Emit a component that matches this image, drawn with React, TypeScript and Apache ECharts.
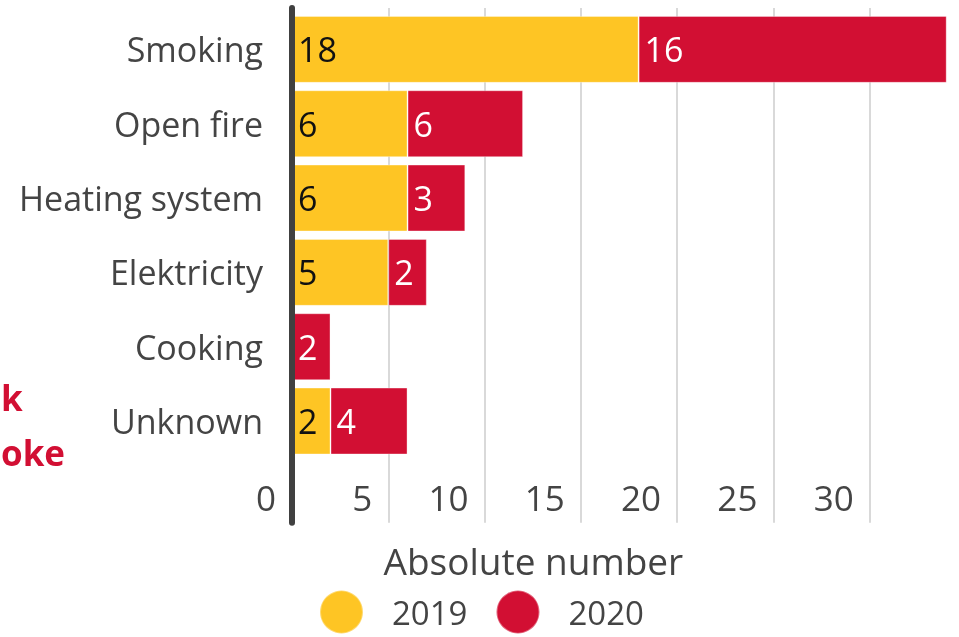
import React, { useEffect, useRef } from "react";
import * as echarts from "echarts";

const categories = ["Smoking", "Open fire", "Heating system", "Elektricity", "Cooking", "Unknown"];
const values2019: (number | string)[] = [18, 6, 6, 5, "-", 2];
const values2020: (number | string)[] = [16, 6, 3, 2, 2, 4];
const seriesNames = ["2019", "2020"];
const axisTitle = "Absolute number";
const titleLines = ["k", "oke"];

const YELLOW = "#fec524";
const RED = "#d20f33";
const TEXT = "#444444";
const FONT = "'Open Sans', 'Noto Sans', sans-serif";

export default function App() {
  const ref = useRef<HTMLDivElement>(null);
  useEffect(() => {
    if (!ref.current) return;
    const chart = echarts.init(ref.current, undefined, { renderer: "svg" });
    const left = 292;
    const right = 12.3;
    const option: any = {
      animation: false,
      textStyle: { fontFamily: FONT },
      grid: [
        { left, right, top: 12.2, height: 446, containLabel: false },
        { left, right, top: 8, height: 514.7, containLabel: false },
      ],
      xAxis: [
        {
          type: "value",
          gridIndex: 0,
          min: 0,
          max: 34,
          interval: 5,
          axisLine: { show: false },
          axisTick: { show: false },
          splitLine: { show: false },
          axisLabel: {
            show: true,
            align: "right",
            padding: [0, 16, 0, 0],
            margin: 22,
            fontSize: 35,
            color: TEXT,
            fontFamily: FONT,
            showMaxLabel: false,
          },
          name: axisTitle,
          nameLocation: "middle",
          nameGap: 84,
          nameTextStyle: { fontSize: 37, color: TEXT, fontFamily: FONT, padding: [0, 172, 0, 0] },
        },
        {
          type: "value",
          gridIndex: 1,
          min: 0,
          max: 34,
          interval: 5,
          axisLine: { show: false },
          axisTick: { show: false },
          axisLabel: { show: false },
          splitLine: { show: true, showMaxLine: false, lineStyle: { color: "#d9d9d9", width: 2 } },
        },
      ],
      yAxis: [
        {
          type: "category",
          gridIndex: 0,
          inverse: true,
          data: categories,
          axisLine: { show: false },
          axisTick: { show: false },
          axisLabel: { margin: 29, fontSize: 34, color: TEXT, fontFamily: FONT },
        },
        {
          type: "value",
          gridIndex: 1,
          z: 10,
          axisLine: { show: true, onZero: false, lineStyle: { color: "#404040", width: 6 } },
          axisTick: { show: false },
          axisLabel: { show: false },
          splitLine: { show: false },
        },
      ],
      legend: {
        data: seriesNames,
        left: 319,
        top: 589.5,
        padding: 0,
        icon: "circle",
        itemWidth: 43,
        itemHeight: 43,
        itemGap: 28,
        textStyle: { fontSize: 33, color: TEXT, fontFamily: FONT, padding: [0, 0, 0, 24] },
      },
      graphic: [
        {
          type: "text",
          x: 1,
          y: 397,
          style: { text: titleLines[0], fill: RED, font: `bold 35px ${FONT}`, textAlign: "left", textVerticalAlign: "middle" },
        },
        {
          type: "text",
          x: 1,
          y: 452,
          style: { text: titleLines[1], fill: RED, font: `bold 35px ${FONT}`, textAlign: "left", textVerticalAlign: "middle" },
        },
      ],
      series: [
        {
          name: seriesNames[0],
          type: "bar",
          stack: "total",
          xAxisIndex: 0,
          yAxisIndex: 0,
          barCategoryGap: "10%",
          data: values2019,
          itemStyle: { color: YELLOW, borderColor: "rgba(255,255,255,0.35)", borderWidth: 1 },
          label: { show: true, position: "insideLeft", distance: 6, fontSize: 34, color: "#111", fontFamily: FONT },
        },
        {
          name: seriesNames[1],
          type: "bar",
          stack: "total",
          xAxisIndex: 0,
          yAxisIndex: 0,
          barCategoryGap: "10%",
          data: values2020,
          itemStyle: { color: RED, borderColor: "rgba(255,255,255,0.35)", borderWidth: 1 },
          label: { show: true, position: "insideLeft", distance: 6, fontSize: 34, color: "#fff", fontFamily: FONT },
        },
      ],
    };
    chart.setOption(option);
    return () => chart.dispose();
  }, []);
  return <div ref={ref} style={{ position: "fixed", left: 0, top: 0, width: 959, height: 637 }} />;
}
